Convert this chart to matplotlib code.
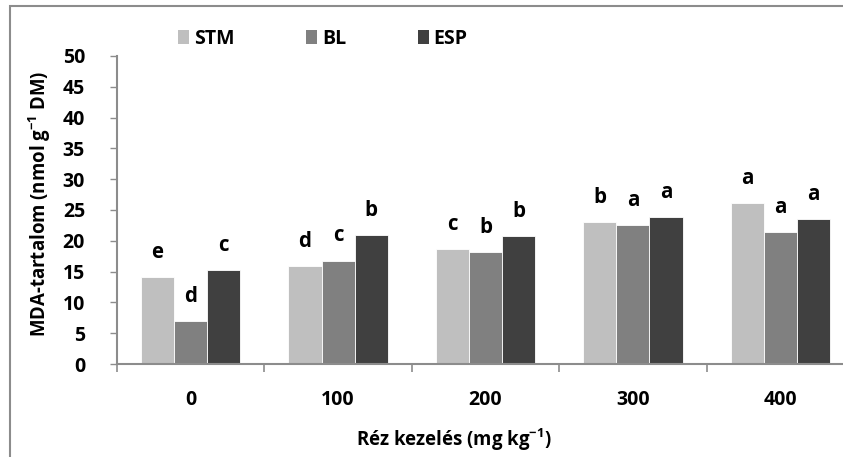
import numpy as np
import matplotlib.pyplot as plt
from matplotlib.patches import Patch, Rectangle

# values
doses = ['0', '100', '200', '300', '400']
series = ['STM', 'BL', 'ESP']
stm = [14.1, 15.9, 18.6, 23.1, 26.2]
bl = [7.0, 16.8, 18.2, 22.5, 21.4]
esp = [15.2, 20.9, 20.7, 23.8, 23.5]
stm_letters = ['e', 'd', 'c', 'b', 'a']
bl_letters = ['d', 'c', 'b', 'a', 'a']
esp_letters = ['c', 'b', 'b', 'a', 'a']
colors = ['#bfbfbf', '#808080', '#404040']

plt.rcParams['font.family'] = ['Open Sans', 'DejaVu Sans']
plt.rcParams['font.weight'] = 'bold'
plt.rcParams['mathtext.fontset'] = 'custom'
plt.rcParams['mathtext.rm'] = 'Open Sans:bold'
plt.rcParams['mathtext.bf'] = 'Open Sans:bold'
plt.rcParams['mathtext.default'] = 'bf'
fs = 14
gray = '#8c8c8c'

fig = plt.figure(figsize=(8.43, 4.57), dpi=100)
W, H = 843, 457
ax = fig.add_axes([117 / W, 1 - 364 / H, (854 - 117) / W, (364 - 56) / H])

x = np.arange(len(doses))
w = 0.225
data = [stm, bl, esp]
letters = [stm_letters, bl_letters, esp_letters]
for i, (vals, lets) in enumerate(zip(data, letters)):
    pos = x + (i - 1) * w
    ax.bar(pos, vals, width=w, color=colors[i], edgecolor='white', linewidth=0.6, zorder=2)
    for px, v, t in zip(pos, vals, lets):
        ax.annotate(t, (px, v), xytext=(0, 13.7), textcoords='offset points',
                    ha='center', va='baseline', fontsize=fs + 0.8, fontweight='bold')

ax.set_xlim(-0.5, len(doses) - 0.5)
ax.set_ylim(0, 50)
ax.set_yticks(range(0, 51, 5))
ax.set_xticks(np.arange(len(doses) + 1) - 0.5)
ax.set_xticklabels([])
ax.set_xticks(x, minor=True)
ax.set_xticklabels(doses, minor=True)
ax.tick_params(axis='x', which='major', length=6, color=gray, width=1.2)
ax.tick_params(axis='x', which='minor', length=0, pad=19, labelsize=fs)
ax.tick_params(axis='y', length=5, color=gray, width=1.0, pad=18, labelsize=fs)
for s in ['top', 'right']:
    ax.spines[s].set_visible(False)
for s in ['left', 'bottom']:
    ax.spines[s].set_color(gray)
    ax.spines[s].set_linewidth(1.5)

fig.text(40 / W, 1 - 204 / H, 'MDA-tartalom (nmol g$^{-1}$ DM)', rotation=90,
         ha='center', va='center', fontsize=13.4, fontweight='bold')
fig.text(454 / W, 1 - 440 / H, 'Réz kezelés (mg kg$^{-1}$)',
         ha='center', va='center', fontsize=13.4, fontweight='bold')

handles = [Patch(facecolor=c, edgecolor='none') for c in colors]
fig.legend(handles, series, loc='center', bbox_to_anchor=(323 / W, 1 - 39 / H), ncol=3,
           frameon=False, fontsize=fs, handlelength=0.55, handleheight=0.75,
           handletextpad=0.25, columnspacing=3.7, borderpad=0)

fig.patches.append(Rectangle((10 / W, -0.1), 1.1, 1 - 6 / H + 0.1, transform=fig.transFigure,
                             fill=False, edgecolor=gray, linewidth=1.5))

fig.savefig('out.png', dpi=100)
